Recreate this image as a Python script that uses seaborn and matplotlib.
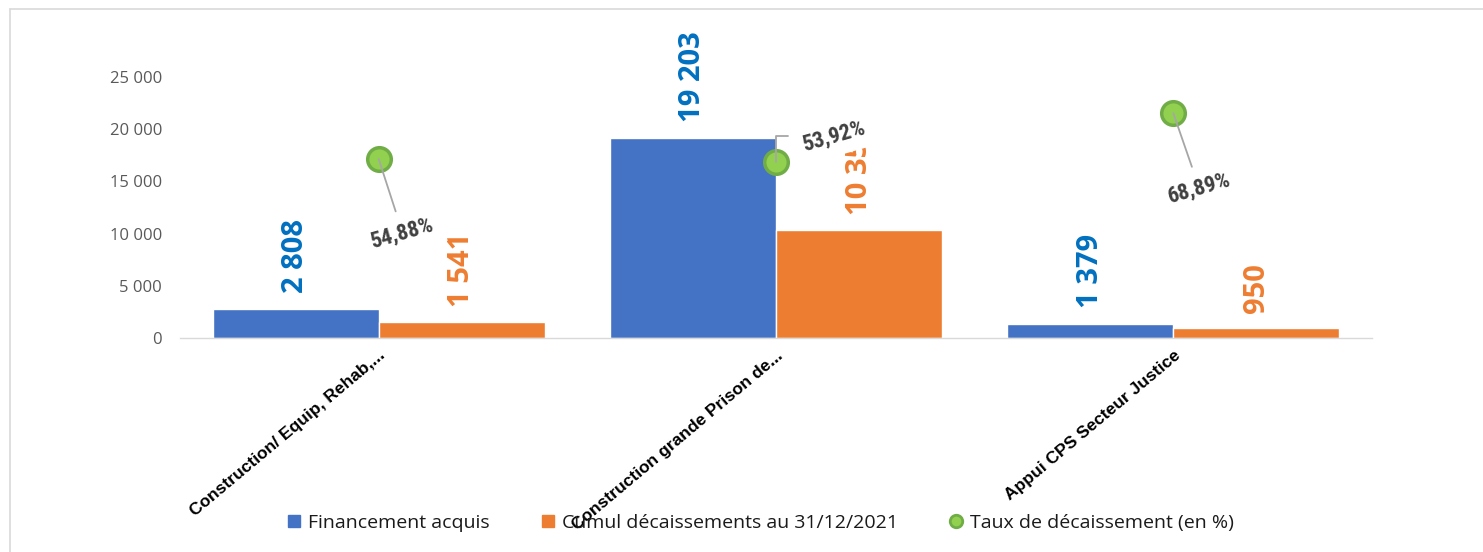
import matplotlib
matplotlib.use("Agg")
import matplotlib.pyplot as plt
from matplotlib.lines import Line2D
from matplotlib import font_manager
import seaborn as sns
import pandas as pd

# ---- data ----
categories = ["Construction/ Equip, Rehab,...",
              "Construction grande Prison de...",
              "Appui CPS Secteur Justice"]
financement = [2808, 19203, 1379]
cumul = [1541, 10354, 950]
taux = [54.88, 53.92, 68.89]
series_names = ["Financement acquis", "Cumul décaissements au 31/12/2021"]
rate_name = "Taux de décaissement (en %)"
rate_labels = ["54,88%", "53,92%", "68,89%"]
yticks = [0, 5000, 10000, 15000, 20000, 25000]

sns.set_theme(style="white")
available = {f.name for f in font_manager.fontManager.ttflist}


def pick(*names):
    for n in names:
        if n in available:
            return n
    return "DejaVu Sans"


main_font = pick("Open Sans", "Liberation Sans")
narrow_font = pick("Liberation Sans Narrow", "Roboto Condensed", "Roboto")
tick_font = pick("Liberation Sans", "Open Sans")
plt.rcParams["font.family"] = [main_font, "DejaVu Sans"]

df = pd.DataFrame({
    "cat": categories * 2,
    "series": [series_names[0]] * len(categories) + [series_names[1]] * len(categories),
    "val": financement + cumul,
})


def fmt(v):
    return f"{v:,.0f}".replace(",", " ")


W, H = 1483, 552
fig = plt.figure(figsize=(W / 100, H / 100), dpi=100)
fig.patch.set_facecolor("white")
ax = fig.add_axes([180 / W, 1 - 338 / H, 1192 / W, 261 / H])

sns.barplot(data=df, x="cat", y="val", hue="series",
            palette=["#4472C4", "#ED7D31"], saturation=1, width=0.836,
            errorbar=None, legend=False, ax=ax)

label_colors = ["#0070C0", "#ED7D31"]
for cont, vals, col in zip(ax.containers, [financement, cumul], label_colors):
    ax.bar_label(cont, labels=[fmt(v) for v in vals], rotation=90, padding=11,
                 color=col, fontsize=21, fontweight="bold", family=main_font)

ax.set_ylim(0, 25000)
ax.set_yticks(yticks, labels=[fmt(v) for v in yticks])
ax.tick_params(axis="y", length=0, pad=13, labelsize=12, labelcolor="#595959")
ax.tick_params(axis="x", length=0, pad=7)
for lab in ax.get_xticklabels():
    lab.set_rotation(40)
    lab.set_ha("right")
    lab.set_va("top")
    lab.set_rotation_mode("anchor")
    lab.set_fontweight("bold")
    lab.set_fontsize(12.5)
    lab.set_family(tick_font)
    lab.set_color("black")
ax.set_xlabel("")
ax.set_ylabel("")
for s in ["left", "top", "right"]:
    ax.spines[s].set_visible(False)
ax.spines["bottom"].set_color("#D9D9D9")
ax.spines["bottom"].set_linewidth(1)
ax.grid(False)

# ---- secondary axis: disbursement rate ----
ax2 = ax.twinx()
ax2.set_ylim(0, 80)
sns.scatterplot(x=categories, y=taux, ax=ax2, s=289, color="#92D050",
                edgecolor="#70AD47", linewidth=2.5, zorder=3, legend=False)
ax2.axis("off")
ax.set_xlim(-0.5, len(categories) - 0.5)

offsets = [(24, -74), (58, 26), (26, -75)]
conn = ["arc3", "angle,angleA=0,angleB=90,rad=0", "arc3"]
for i, (r, txt) in enumerate(zip(taux, rate_labels)):
    ax2.annotate(txt, xy=(i, r), xytext=offsets[i], textcoords="offset pixels",
                 ha="center", va="center", rotation=16, fontsize=16,
                 color="#404040", family=narrow_font, fontweight="bold",
                 bbox=dict(boxstyle="square,pad=0.4", fc="white", ec="none"),
                 arrowprops=dict(arrowstyle="-", color="#A6A6A6", lw=1.3,
                                 shrinkA=2, shrinkB=0, connectionstyle=conn[i]))

# ---- legend ----
handles = [
    Line2D([], [], ls="none", marker="s", markersize=9, mfc="#4472C4", mec="#4472C4"),
    Line2D([], [], ls="none", marker="s", markersize=9, mfc="#ED7D31", mec="#ED7D31"),
    Line2D([], [], ls="none", marker="o", markersize=9, mfc="#92D050", mec="#70AD47", mew=2),
]
fig.legend(handles, series_names + [rate_name], loc="center",
           bbox_to_anchor=(760 / W, 1 - 523 / H), ncol=3, frameon=False,
           fontsize=14, handlelength=0.8, handletextpad=0.3,
           columnspacing=2.6, labelcolor="#1a1a1a")

# chart border
fig.add_artist(Line2D([10 / W, 1], [1 - 9 / H, 1 - 9 / H], transform=fig.transFigure,
                      color="#D9D9D9", lw=1.2))
fig.add_artist(Line2D([10 / W, 10 / W], [0, 1 - 9 / H], transform=fig.transFigure,
                      color="#D9D9D9", lw=1.2))

fig.savefig("out.png", dpi=100)
